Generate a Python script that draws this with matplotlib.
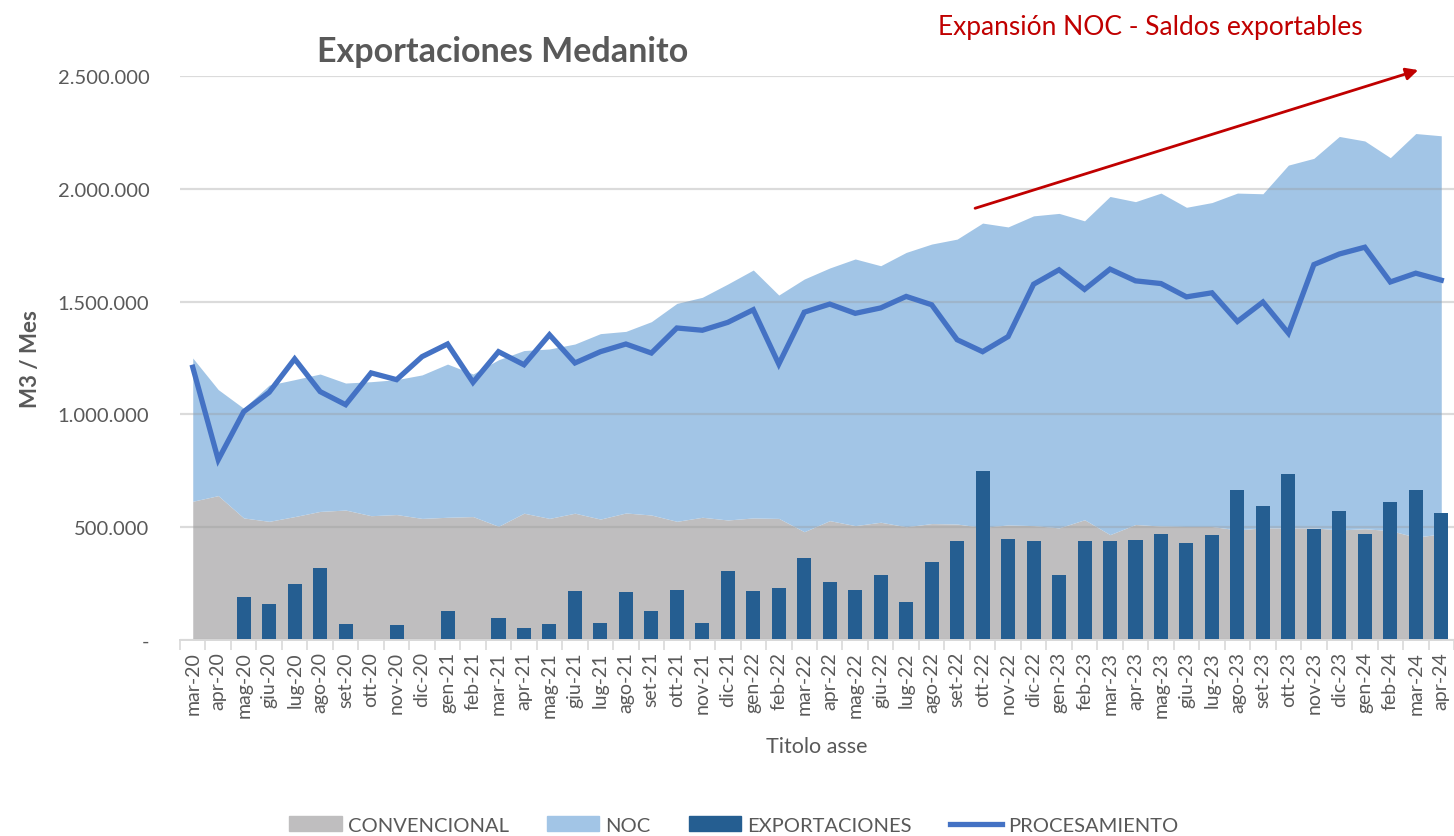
import matplotlib.pyplot as plt
import numpy as np
from matplotlib.ticker import FuncFormatter, FixedLocator
from matplotlib.patches import Patch
from matplotlib.lines import Line2D

plt.rcParams['font.family'] = ['Lato', 'DejaVu Sans']

# months mar-20 .. apr-24
months = ['mar-20', 'apr-20', 'mag-20', 'giu-20', 'lug-20', 'ago-20', 'set-20', 'ott-20', 'nov-20', 'dic-20',
          'gen-21', 'feb-21', 'mar-21', 'apr-21', 'mag-21', 'giu-21', 'lug-21', 'ago-21', 'set-21', 'ott-21',
          'nov-21', 'dic-21', 'gen-22', 'feb-22', 'mar-22', 'apr-22', 'mag-22', 'giu-22', 'lug-22', 'ago-22',
          'set-22', 'ott-22', 'nov-22', 'dic-22', 'gen-23', 'feb-23', 'mar-23', 'apr-23', 'mag-23', 'giu-23',
          'lug-23', 'ago-23', 'set-23', 'ott-23', 'nov-23', 'dic-23', 'gen-24', 'feb-24', 'mar-24', 'apr-24']

# values in thousands of m3
convencional = [615, 640, 541, 526, 547, 570, 576, 551, 556, 539, 544, 547, 504, 562, 539, 562, 536, 563, 554, 526,
                544, 532, 541, 539, 480, 529, 507, 522, 502, 516, 514, 499, 510, 507, 497, 533, 467, 512, 505, 503,
                503, 488, 497, 497, 497, 488, 493, 485, 456, 470]
noc = [635, 470, 486, 604, 607, 609, 563, 594, 598, 636, 679, 632, 738, 721, 751, 750, 822, 805, 857, 966,
       975, 1046, 1099, 990, 1120, 1120, 1182, 1137, 1216, 1239, 1263, 1349, 1321, 1373, 1394, 1325, 1499, 1431, 1476, 1415,
       1436, 1493, 1481, 1608, 1638, 1744, 1719, 1653, 1789, 1765]
exportaciones = [0, 0, 192, 160, 247, 319, 71, 0, 66, 0, 130, 0, 99, 55, 71, 217, 75, 211, 130, 222,
                 75, 307, 216, 229, 365, 256, 223, 290, 167, 347, 437, 750, 448, 440, 288, 440, 440, 443, 470, 432,
                 466, 665, 594, 738, 493, 572, 472, 612, 663, 563]
procesamiento = [1209, 799, 1012, 1098, 1246, 1101, 1043, 1184, 1154, 1256, 1312, 1142, 1278, 1220, 1353, 1228, 1278, 1312, 1272, 1383,
                 1373, 1408, 1464, 1223, 1453, 1489, 1448, 1472, 1523, 1486, 1331, 1278, 1345, 1577, 1641, 1554, 1644, 1592, 1580, 1521,
                 1539, 1412, 1498, 1360, 1664, 1711, 1741, 1587, 1626, 1595]

conv = np.array(convencional) * 1000
nocv = np.array(noc) * 1000
expo = np.array(exportaciones) * 1000
proc = np.array(procesamiento) * 1000
x = np.arange(len(months))

c_gray = '#bfbebf'
c_noc = '#a2c5e6'
c_exp = '#255e91'
c_line = '#4472c4'
c_text = '#595959'

fig = plt.figure(figsize=(14.54, 8.37), dpi=100)
ax = fig.add_axes([180 / 1454, 1 - 641 / 837, 1 - 180 / 1454, (641 - 77) / 837])

ax.fill_between(x, 0, conv, color=c_gray, lw=0, zorder=1)
ax.fill_between(x, conv, conv + nocv, color=c_noc, lw=0, zorder=1)
ax.bar(x, expo, width=0.55, color=c_exp, zorder=2)
ax.plot(x, proc, color=c_line, lw=3.8, zorder=3, solid_joinstyle='miter')

ax.set_xlim(-0.5, len(months) - 0.5)
ax.set_ylim(0, 2500000)
ax.set_yticks(np.arange(0, 2500001, 500000))
ax.yaxis.set_major_formatter(FuncFormatter(lambda v, p: '-' if v == 0 else f'{int(v):,}'.replace(',', '.')))
ax.set_axisbelow('line')
ax.yaxis.grid(True, color='#999999', alpha=0.35, lw=1.6)
ax.tick_params(axis='y', length=0, pad=22, labelsize=14.5, labelcolor=c_text)

ax.set_xticks(x)
ax.set_xticklabels(months, rotation=90, fontsize=14, color=c_text)
ax.tick_params(axis='x', which='major', length=0, pad=8)
ax.xaxis.set_minor_locator(FixedLocator(np.arange(-0.5, len(months), 1)))
ax.tick_params(axis='x', which='minor', length=7, color='#d9d9d9', width=1.2)

for s in ['top', 'right', 'left']:
    ax.spines[s].set_visible(False)
ax.spines['bottom'].set_color('#d9d9d9')
ax.spines['bottom'].set_linewidth(1.4)

ax.set_xlabel('Titolo asse', fontsize=15.5, color=c_text, labelpad=14)
ax.set_ylabel('M3 / Mes', fontsize=16, color=c_text, fontweight='bold', labelpad=12)

fig.text(503 / 1454, 1 - 52 / 837, 'Exportaciones Medanito', fontsize=24.5, fontweight='bold',
         color=c_text, ha='center', va='center')

ax.annotate('', xy=(48.2, 2530000), xytext=(30.6, 1910000), xycoords='data', annotation_clip=False,
            arrowprops=dict(arrowstyle='-|>', color='#c00000', lw=2, mutation_scale=18))
fig.text(1150 / 1454, 1 - 27 / 837, 'Expansión NOC - Saldos exportables', fontsize=19,
         color='#c00000', ha='center', va='center')

handles = [Patch(color=c_gray), Patch(color=c_noc), Patch(color=c_exp), Line2D([0], [0], color=c_line, lw=3.8)]
labels = ['CONVENCIONAL', 'NOC', 'EXPORTACIONES', 'PROCESAMIENTO']
fig.legend(handles, labels, loc='center', bbox_to_anchor=(734 / 1454, 1 - 826 / 837), ncol=4, frameon=False,
           fontsize=14.5, handlelength=2.6, handleheight=0.7, columnspacing=1.9, handletextpad=0.3,
           labelcolor=c_text)

fig.savefig('out.png', dpi=100)
